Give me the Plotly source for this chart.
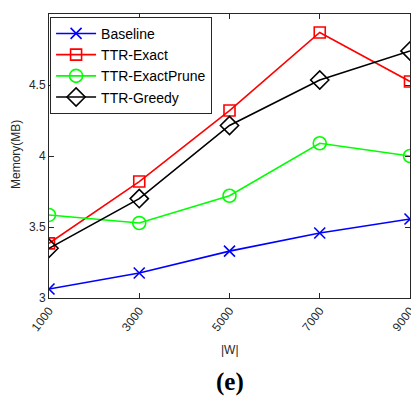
import plotly.graph_objects as go

x_vals = [1000, 3000, 5000, 7000, 9000]
baseline = [3.063, 3.176, 3.33, 3.458, 3.556]
ttr_exact = [3.385, 3.82, 4.32, 4.87, 4.525]
ttr_exact_prune = [3.585, 3.528, 3.72, 4.09, 4.0]
ttr_greedy = [3.35, 3.70, 4.215, 4.535, 4.74]

series = [
    ("Baseline", baseline, "#0000ff", "x-thin-open", 11),
    ("TTR-Exact", ttr_exact, "#ff0000", "square-open", 11),
    ("TTR-ExactPrune", ttr_exact_prune, "#00ff00", "circle-open", 13),
    ("TTR-Greedy", ttr_greedy, "#000000", "diamond-open", 14),
]

fig = go.Figure()
for name, ys, color, sym, size in series:
    fig.add_trace(go.Scatter(
        x=x_vals, y=ys, name=name, mode="lines+markers",
        line=dict(color=color, width=1.6),
        marker=dict(symbol=sym, size=size, color=color, line=dict(color=color, width=1.6)),
    ))

# page has an 8px body margin, so figure is drawn 8px right/down
OFF = 8
W, H = 419 - OFF, 411 - OFF
L, T, R = 49 - OFF, 14 - OFF, 9
B = H - (298 - OFF)
PH = 298 - 14
PW = W - L - R

def py(pix):
    return (298 - pix) / PH

def px(pix):
    return (pix - 49) / PW

fig.update_layout(
    width=W, height=H,
    margin=dict(l=L, r=R, t=T, b=B, autoexpand=False),
    plot_bgcolor="white", paper_bgcolor="white",
    font=dict(family="Liberation Sans, Arial, sans-serif", size=12, color="#262626"),
    showlegend=True,
    legend=dict(x=0.003, y=0.99, xanchor="left", yanchor="top",
                bgcolor="white", bordercolor="#262626", borderwidth=1,
                font=dict(size=14, color="#000000"), tracegroupgap=0,
                itemwidth=40),
    annotations=[
        dict(text="<b>(e)</b>", x=0.5, y=py(382), xref="paper", yref="paper",
             xanchor="center", yanchor="middle", showarrow=False,
             font=dict(family="Liberation Serif, Times New Roman, serif", size=25, color="#000000")),
        dict(text="|W|", x=0.5, y=py(350), xref="paper", yref="paper",
             xanchor="center", yanchor="middle", showarrow=False,
             font=dict(size=12, color="#262626")),
        dict(text="Memory(MB)", x=px(16), y=py(155), xref="paper", yref="paper",
             xanchor="center", yanchor="middle", showarrow=False, textangle=-90,
             font=dict(size=12, color="#262626")),
    ],
)
fig.update_xaxes(
    range=[1000, 9000], tickvals=x_vals, ticktext=[str(v) for v in x_vals],
    tickangle=-52, ticks="inside", ticklen=5, tickcolor="#262626",
    showline=True, linecolor="#262626", linewidth=1, mirror="ticks",
    showgrid=False, zeroline=False, automargin=False,
)
fig.update_yaxes(
    range=[3, 5], tickvals=[3, 3.5, 4, 4.5, 5], ticktext=["3", "3.5", "4", "4.5", "5"],
    ticks="inside", ticklen=5, tickcolor="#262626",
    showline=True, linecolor="#262626", linewidth=1, mirror="ticks",
    showgrid=False, zeroline=False, automargin=False,
)
fig.write_html("out.html")
